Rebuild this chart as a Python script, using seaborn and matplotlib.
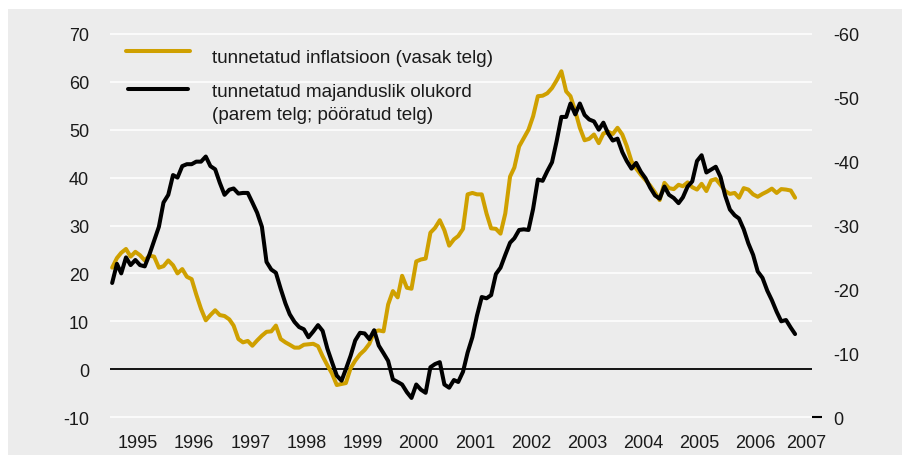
import pandas as pd
import matplotlib
matplotlib.use('Agg')
import matplotlib.pyplot as plt
import seaborn as sns
from matplotlib.lines import Line2D
from matplotlib.patches import Rectangle

# monthly values, Jan 1995 - Mar 2007
inflation = [
    21.2, 23.2, 24.3, 25.1, 23.5, 24.5, 23.8, 22.7, 23.7, 23.5, 21.2, 21.5,
    22.7, 21.7, 20.0, 20.9, 19.3, 18.8, 15.6, 12.6, 10.2, 11.3, 12.3, 11.3,
    11.1, 10.4, 9.1, 6.3, 5.6, 5.9, 4.9, 6.0, 7.0, 7.8, 7.9, 9.1,
    6.3, 5.6, 5.1, 4.5, 4.5, 5.1, 5.2, 5.3, 4.8, 2.7, 0.8, -0.9,
    -3.3, -3.1, -2.9, 0.2, 1.8, 3.1, 4.0, 5.3, 7.8, 8.1, 7.9, 13.5,
    16.3, 15.0, 19.5, 17.0, 16.8, 22.5, 22.9, 23.1, 28.5, 29.5, 31.1, 29.0,
    25.8, 27.1, 27.8, 29.3, 36.5, 36.8, 36.5, 36.5, 32.5, 29.4, 29.3, 28.3,
    32.5, 40.2, 42.1, 46.5, 48.2, 50.0, 52.8, 57.0, 57.1, 57.6, 58.7, 60.3,
    62.2, 58.0, 57.0, 53.9, 50.4, 47.8, 48.1, 49.0, 47.2, 49.2, 49.6, 49.1,
    50.4, 49.0, 46.6, 43.4, 41.9, 40.6, 39.5, 38.3, 36.9, 35.3, 38.9, 37.8,
    37.6, 38.5, 38.2, 39.0, 38.0, 37.5, 38.7, 37.2, 39.4, 39.7, 38.5, 37.2,
    36.6, 36.8, 35.8, 37.8, 37.5, 36.5, 36.0, 36.6, 37.1, 37.7, 36.8, 37.6,
    37.5, 37.3, 35.8,
]
economy = [
    -21.0, -24.0, -22.5, -25.0, -23.8, -24.6, -23.8, -23.6, -25.5, -27.6, -29.8, -33.6,
    -34.8, -37.9, -37.5, -39.3, -39.6, -39.6, -40.0, -40.0, -40.8, -39.3, -38.8, -36.7,
    -34.8, -35.6, -35.8, -35.0, -35.1, -35.1, -33.6, -32.0, -29.8, -24.3, -23.1, -22.6,
    -20.1, -17.8, -16.1, -14.9, -14.1, -13.75, -12.5, -13.4, -14.4, -13.5, -10.7, -8.6,
    -6.5, -5.7, -7.5, -9.6, -12.0, -13.2, -13.1, -12.2, -13.6, -11.2, -10.0, -8.8,
    -5.9, -5.5, -5.1, -3.9, -3.0, -5.1, -4.3, -3.8, -7.8, -8.3, -8.6, -5.1,
    -4.6, -5.8, -5.5, -7.1, -10.1, -12.5, -15.9, -18.8, -18.6, -19.1, -22.4, -23.4,
    -25.4, -27.3, -28.0, -29.3, -29.4, -29.3, -32.6, -37.2, -37.0, -38.5, -39.9, -43.2,
    -47.0, -47.0, -49.1, -47.4, -49.1, -47.3, -46.6, -46.3, -45.0, -46.1, -44.4, -43.3,
    -43.6, -41.5, -40.1, -38.9, -39.8, -38.4, -37.4, -35.9, -34.7, -34.2, -36.1, -34.8,
    -34.3, -33.5, -34.4, -36.1, -36.9, -40.1, -41.0, -38.3, -38.75, -39.2, -37.6, -34.7,
    -32.5, -31.6, -31.1, -29.4, -27.2, -25.4, -22.8, -21.8, -19.8, -18.3, -16.5, -15.0,
    -15.2, -14.0, -13.0,
]
years = list(range(1995, 2008))
left_ticks = [-10, 0, 10, 20, 30, 40, 50, 60, 70]
right_ticks = [0, -10, -20, -30, -40, -50, -60]
label_infl = 'tunnetatud inflatsioon (vasak telg)'
label_econ_1 = 'tunnetatud majanduslik olukord'
label_econ_2 = '(parem telg; pööratud telg)'

GOLD = '#cfa000'
BG = '#ececec'
TXT = '#1a1a1a'

dates = pd.date_range('1995-01-01', periods=len(inflation), freq='MS') + pd.Timedelta(days=14)
df = pd.DataFrame({'date': dates, 'inflation': inflation, 'economy': economy})

sns.set_theme(style='darkgrid', rc={'axes.facecolor': BG, 'grid.color': 'white', 'grid.linewidth': 1.1})
plt.rcParams['font.family'] = ['Liberation Sans', 'DejaVu Sans']
plt.rcParams['axes.unicode_minus'] = False

fig = plt.figure(figsize=(9.02, 4.56), dpi=100)
fig.patch.set_facecolor('white')
fig.add_artist(Rectangle((8 / 902, 0), 1, 446 / 456, transform=fig.transFigure,
                         facecolor=BG, edgecolor='none', zorder=-10))

ax = fig.add_axes([110 / 902, 36 / 456, 702 / 902, 387 / 456])
ax.axhline(0, color='black', lw=1.3, zorder=1.5)
sns.lineplot(data=df, x='date', y='inflation', ax=ax, color=GOLD, lw=2.9, zorder=2)

ax2 = ax.twinx()
sns.lineplot(data=df, x='date', y='economy', ax=ax2, color='black', lw=2.9, zorder=3)

ax.set_xlim(pd.Timestamp('1995-01-01'), pd.Timestamp('2007-07-03'))
ax.set_ylim(-10.4, 70.4)
ax2.set_ylim(0.3, -60.3)

tick_dates = [pd.Timestamp(f'{y}-07-01') for y in years[:-1]] + [pd.Timestamp('2007-05-23')]
ax.set_xticks(tick_dates)
ax.set_xticklabels([str(y) for y in years])
ax.set_yticks(left_ticks)
ax.set_yticklabels([str(v) for v in left_ticks])
ax2.set_yticks(right_ticks)
ax2.set_yticklabels([str(v) for v in right_ticks])

ax.xaxis.grid(False)
ax2.grid(False)
ax.set_xlabel('')
ax.set_ylabel('')
ax2.set_ylabel('')
for a in (ax, ax2):
    for s in a.spines.values():
        s.set_visible(False)

ax.tick_params(axis='y', length=0, labelsize=13, pad=15, colors=TXT)
ax.tick_params(axis='x', length=0, labelsize=13, pad=11, colors=TXT)
ax2.tick_params(axis='y', length=0, labelsize=13, pad=15, colors=TXT)
# the small dash next to the right-hand 0
ax2.yaxis.remove_overlapping_locs = False
ax2.set_yticks([0], minor=True)
ax2.tick_params(axis='y', which='minor', right=True, length=7, width=1.5, color='black', direction='out')

# legend drawn by hand
ax.add_line(Line2D([0.0228, 0.114], [0.951, 0.951], transform=ax.transAxes, color=GOLD, lw=2.9))
ax.add_line(Line2D([0.0256, 0.111], [0.853, 0.853], transform=ax.transAxes, color='black', lw=2.9))
ax.text(0.1453, 0.935, label_infl, transform=ax.transAxes, fontsize=13.6, va='center', color=TXT)
ax.text(0.1453, 0.845, label_econ_1, transform=ax.transAxes, fontsize=13.6, va='center', color=TXT)
ax.text(0.1453, 0.788, label_econ_2, transform=ax.transAxes, fontsize=13.6, va='center', color=TXT)

fig.savefig('out.png', dpi=100, facecolor=fig.get_facecolor())
